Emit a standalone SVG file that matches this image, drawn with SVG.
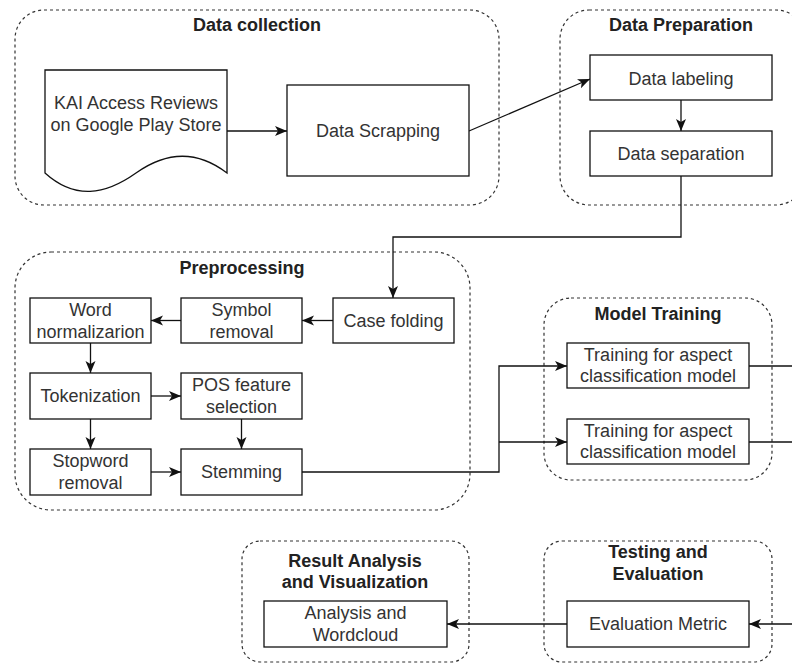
<svg xmlns="http://www.w3.org/2000/svg" width="792" height="664" viewBox="0 0 792 664">
<style>
.grp{fill:none;stroke:#333;stroke-width:1.2;stroke-dasharray:3 3}
.box{fill:#fff;stroke:#111;stroke-width:1.3}
.t{font-family:"Liberation Sans",Arial,sans-serif;font-size:18px;fill:#333;text-anchor:middle}
.b{font-weight:bold;fill:#222}
.c{fill:none;stroke:#111;stroke-width:1.3}
</style>
<defs>
<marker id="ah" markerUnits="userSpaceOnUse" markerWidth="13" markerHeight="11" refX="12" refY="5" orient="auto">
<path d="M0,0 L12,5 L0,10 L3,5 Z" fill="#111"/>
</marker>
</defs>
<rect width="792" height="664" fill="#fff"/>

<g id="grp-data-collection">
<rect class="grp" x="15" y="10" width="484" height="195" rx="29"/>
<text class="t b" x="257" y="31">Data collection</text>
</g>
<g id="grp-data-preparation">
<rect class="grp" x="560" y="10" width="245" height="195" rx="29"/>
<text class="t b" x="681" y="31">Data Preparation</text>
</g>
<g id="grp-preprocessing">
<rect class="grp" x="15" y="252" width="455" height="258" rx="36"/>
<text class="t b" x="242" y="274">Preprocessing</text>
</g>
<g id="grp-model-training">
<rect class="grp" x="544" y="298" width="228" height="182" rx="27"/>
<text class="t b" x="658" y="320">Model Training</text>
</g>
<g id="grp-result-analysis">
<rect class="grp" x="242" y="541" width="227" height="121" rx="18"/>
<text class="t b" x="355" y="567">Result Analysis</text>
<text class="t b" x="355" y="588">and Visualization</text>
</g>
<g id="grp-testing">
<rect class="grp" x="544" y="541" width="228" height="121" rx="18"/>
<text class="t b" x="658" y="558">Testing and</text>
<text class="t b" x="658" y="580">Evaluation</text>
</g>

<g id="connectors">
<line class="c" x1="227" y1="131" x2="287" y2="131" marker-end="url(#ah)"/>
<line class="c" x1="469" y1="131" x2="590" y2="79" marker-end="url(#ah)"/>
<line class="c" x1="681" y1="100" x2="681" y2="131" marker-end="url(#ah)"/>
<polyline class="c" points="681,176 681,237 393,237 393,298" marker-end="url(#ah)"/>
<line class="c" x1="333" y1="320.5" x2="302" y2="320.5" marker-end="url(#ah)"/>
<line class="c" x1="181" y1="320.5" x2="151" y2="320.5" marker-end="url(#ah)"/>
<line class="c" x1="90.5" y1="343" x2="90.5" y2="373" marker-end="url(#ah)"/>
<line class="c" x1="151" y1="396" x2="181" y2="396" marker-end="url(#ah)"/>
<line class="c" x1="90.5" y1="419" x2="90.5" y2="449" marker-end="url(#ah)"/>
<line class="c" x1="241.5" y1="419" x2="241.5" y2="449" marker-end="url(#ah)"/>
<line class="c" x1="151" y1="472" x2="181" y2="472" marker-end="url(#ah)"/>
<polyline class="c" points="302,472 499,472 499,366 567,366" marker-end="url(#ah)"/>
<polyline class="c" points="499,442 567,442" marker-end="url(#ah)"/>
<line class="c" x1="749" y1="366" x2="792" y2="366"/>
<line class="c" x1="749" y1="442" x2="792" y2="442"/>
<line class="c" x1="792" y1="624" x2="749" y2="624" marker-end="url(#ah)"/>
<line class="c" x1="567" y1="624" x2="447" y2="624" marker-end="url(#ah)"/>
</g>

<g id="n-reviews">
<path class="box" d="M45,70 H227 V173 C197,150 167,151 136,173 C105,195 75,200 45,173 Z"/>
<text class="t" x="136" y="109">KAI Access Reviews</text>
<text class="t" x="136" y="131">on Google Play Store</text>
</g>
<g id="n-scrapping">
<rect class="box" x="287" y="85" width="182" height="91"/>
<text class="t" x="378" y="137">Data Scrapping</text>
</g>
<g id="n-labeling">
<rect class="box" x="590" y="55" width="182" height="45"/>
<text class="t" x="681" y="84.5">Data labeling</text>
</g>
<g id="n-separation">
<rect class="box" x="590" y="131" width="182" height="45"/>
<text class="t" x="681" y="160">Data separation</text>
</g>
<g id="n-case-folding">
<rect class="box" x="333" y="298" width="121" height="45"/>
<text class="t" x="393.5" y="327">Case folding</text>
</g>
<g id="n-symbol">
<rect class="box" x="181" y="298" width="121" height="45"/>
<text class="t" x="241.5" y="316">Symbol</text>
<text class="t" x="241.5" y="337.5">removal</text>
</g>
<g id="n-word-norm">
<rect class="box" x="30" y="298" width="121" height="45"/>
<text class="t" x="90.5" y="316">Word</text>
<text class="t" x="90.5" y="337.5">normalizarion</text>
</g>
<g id="n-tokenization">
<rect class="box" x="30" y="373" width="121" height="46"/>
<text class="t" x="90.5" y="402">Tokenization</text>
</g>
<g id="n-pos">
<rect class="box" x="181" y="373" width="121" height="46"/>
<text class="t" x="241.5" y="391">POS feature</text>
<text class="t" x="241.5" y="413">selection</text>
</g>
<g id="n-stopword">
<rect class="box" x="30" y="449" width="121" height="46"/>
<text class="t" x="90.5" y="467">Stopword</text>
<text class="t" x="90.5" y="489">removal</text>
</g>
<g id="n-stemming">
<rect class="box" x="181" y="449" width="121" height="46"/>
<text class="t" x="241.5" y="478">Stemming</text>
</g>
<g id="n-training-1">
<rect class="box" x="567" y="343" width="182" height="45"/>
<text class="t" x="658" y="360.5">Training for aspect</text>
<text class="t" x="658" y="382">classification model</text>
</g>
<g id="n-training-2">
<rect class="box" x="567" y="419" width="182" height="45"/>
<text class="t" x="658" y="436.5">Training for aspect</text>
<text class="t" x="658" y="458">classification model</text>
</g>
<g id="n-analysis">
<rect class="box" x="264" y="601" width="183" height="46"/>
<text class="t" x="355.5" y="619">Analysis and</text>
<text class="t" x="355.5" y="641">Wordcloud</text>
</g>
<g id="n-eval-metric">
<rect class="box" x="567" y="601" width="182" height="46"/>
<text class="t" x="658" y="630">Evaluation Metric</text>
</g>
</svg>
